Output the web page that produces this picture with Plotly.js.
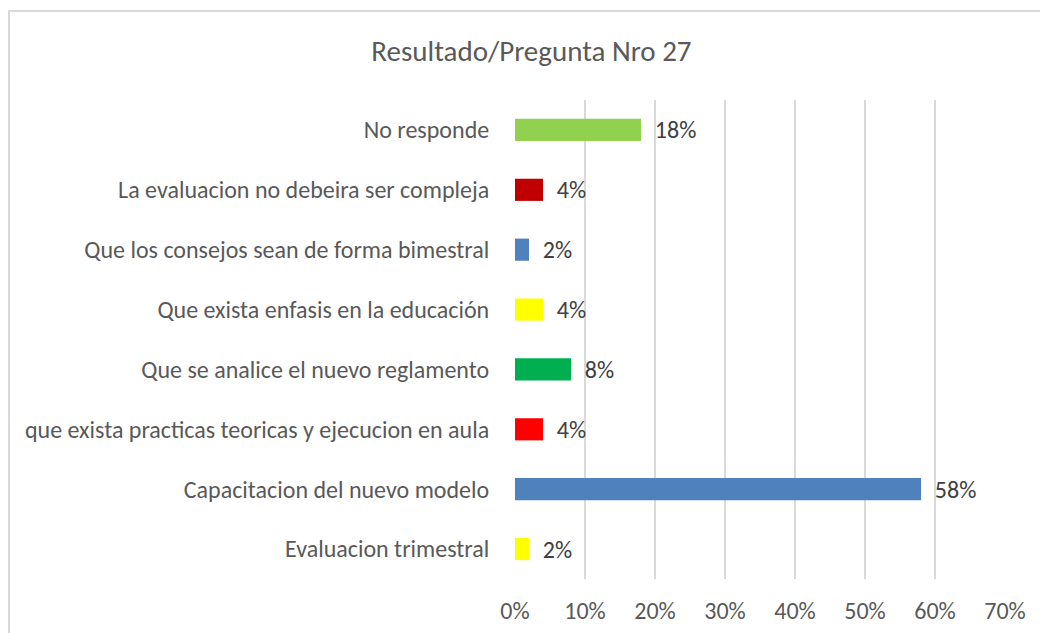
<!DOCTYPE html>
<html>
<head>
<meta charset="utf-8">
<script src="https://cdn.plot.ly/plotly-3.0.1.min.js"></script>
<style>
html,body{margin:0;padding:0;background:#fff;overflow:hidden;}
#chart{position:absolute;left:0;top:0;width:1040px;height:633px;}
#frame{position:absolute;left:8px;top:10px;width:1100px;height:700px;border:2px solid #d9d9d9;pointer-events:none;box-sizing:border-box;}
</style>
</head>
<body>
<div id="chart"></div>
<div id="frame"></div>
<script>
const categories = [
  "Evaluacion trimestral",
  "Capacitacion del nuevo modelo",
  "que exista practicas teoricas y ejecucion en aula",
  "Que se analice el nuevo reglamento",
  "Que exista enfasis en la educación",
  "Que los consejos sean de forma bimestral",
  "La evaluacion no debeira ser compleja",
  "No responde"
];
const values = [0.02, 0.58, 0.04, 0.08, 0.04, 0.02, 0.04, 0.18];
const barColors = ["#ffff00", "#4f81bd", "#ff0000", "#00b050", "#ffff00", "#4f81bd", "#c00000", "#92d050"];
const xTickVals = [0, 0.1, 0.2, 0.3, 0.4, 0.5, 0.6, 0.7];
const xTickText = ["0%", "10%", "20%", "30%", "40%", "50%", "60%", "70%"];

const font = "Calibri, Carlito, 'Open Sans', sans-serif";

const trace = {
  type: "bar",
  orientation: "h",
  y: categories,
  x: values,
  width: 0.37,
  marker: {color: barColors},
  text: values.map(v => "\u00a0\u00a0" + Math.round(v * 100) + "%"),
  textposition: "outside",
  constraintext: "none",
  cliponaxis: false,
  textfont: {family: font, size: 24, color: "#404040"},
  hoverinfo: "none"
};

const layout = {
  width: 1040,
  height: 633,
  margin: {l: 515, r: 35, t: 100, b: 54},
  paper_bgcolor: "rgba(0,0,0,0)",
  plot_bgcolor: "rgba(0,0,0,0)",
  showlegend: false,
  title: {
    text: "Resultado/Pregunta Nro 27",
    font: {family: font, size: 29, color: "#595959"},
    x: 0.511, xanchor: "center", y: 0.92, yanchor: "middle"
  },
  xaxis: {
    range: [0, 0.7],
    tickvals: xTickVals,
    ticktext: xTickText,
    showgrid: true,
    gridcolor: "#d9d9d9",
    gridwidth: 1.5,
    zeroline: false,
    showline: false,
    ticks: "outside",
    ticklen: 10,
    tickcolor: "rgba(0,0,0,0)",
    tickfont: {family: font, size: 24, color: "#595959"},
    fixedrange: true
  },
  yaxis: {
    type: "category",
    categoryorder: "array",
    categoryarray: categories,
    range: [-0.5, 7.5],
    showgrid: false,
    zeroline: false,
    showline: false,
    ticks: "outside",
    ticklen: 20,
    tickcolor: "rgba(0,0,0,0)",
    tickfont: {family: font, size: 24, color: "#595959"},
    fixedrange: true
  }
};

Plotly.newPlot("chart", [trace], layout, {displayModeBar: false, staticPlot: true});
</script>
</body>
</html>
